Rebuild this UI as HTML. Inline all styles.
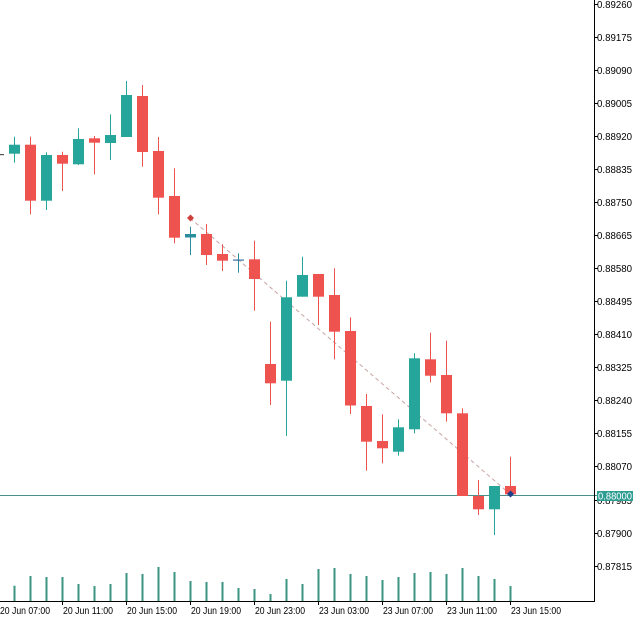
<!DOCTYPE html>
<html><head><meta charset="utf-8"><style>
html,body{margin:0;padding:0;background:#fff;}
svg{display:block;}
text{font-family:"Liberation Sans",sans-serif;font-size:10px;fill:#000;}
</style></head><body>
<svg width="638" height="619" viewBox="0 0 638 619" xmlns="http://www.w3.org/2000/svg">
<rect x="0" y="0" width="638" height="619" fill="#fff"/>
<!-- volumes -->
<g fill="#3b9580">
<rect x="13.5" y="585.7" width="2" height="15.3"/>
<rect x="29.5" y="576" width="2" height="25"/>
<rect x="45.5" y="577" width="2" height="24"/>
<rect x="61.5" y="577" width="2" height="24"/>
<rect x="77.5" y="584" width="2" height="17"/>
<rect x="93.5" y="586" width="2" height="15"/>
<rect x="109.5" y="584" width="2" height="17"/>
<rect x="125.5" y="573" width="2" height="28"/>
<rect x="141.5" y="574" width="2" height="27"/>
<rect x="157.5" y="567" width="2" height="34"/>
<rect x="173.5" y="572" width="2" height="29"/>
<rect x="189.5" y="581" width="2" height="20"/>
<rect x="205.5" y="582" width="2" height="19"/>
<rect x="221.5" y="582" width="2" height="19"/>
<rect x="237.5" y="588" width="2" height="13"/>
<rect x="253.5" y="589" width="2" height="12"/>
<rect x="269.5" y="594" width="2" height="7"/>
<rect x="285.5" y="579" width="2" height="22"/>
<rect x="301.5" y="584" width="2" height="17"/>
<rect x="317.5" y="569" width="2" height="32"/>
<rect x="333.5" y="568" width="2" height="33"/>
<rect x="349.5" y="574" width="2" height="27"/>
<rect x="365.5" y="576" width="2" height="25"/>
<rect x="381.5" y="580" width="2" height="21"/>
<rect x="397.5" y="577" width="2" height="24"/>
<rect x="413.5" y="573" width="2" height="28"/>
<rect x="429.5" y="572" width="2" height="29"/>
<rect x="445.5" y="574" width="2" height="27"/>
<rect x="461.5" y="568" width="2" height="33"/>
<rect x="477.5" y="576" width="2" height="25"/>
<rect x="493.5" y="579" width="2" height="22"/>
<rect x="509.5" y="586" width="2" height="15"/>
</g>
<!-- horizontal level line -->
<line x1="0" y1="495.5" x2="597" y2="495.5" stroke="#4d8f8a" stroke-width="1"/>
<!-- dashed trade line -->
<line x1="190" y1="218" x2="510" y2="494" stroke="#c9a4a4" stroke-width="1" stroke-dasharray="4,3"/>
<!-- candles -->
<g id="c">
<rect x="-7" y="154" width="11" height="1.2" fill="#555"/>
</g>
<g fill="#26a69a">
<!-- green -->
<rect x="14" y="136.7" width="1" height="26"/><rect x="9" y="144.7" width="11" height="9"/>
<rect x="46" y="152.3" width="1" height="57.7"/><rect x="41" y="155" width="11" height="45.7"/>
<rect x="78" y="128.3" width="1" height="36.7"/><rect x="73" y="139" width="11" height="25.3"/>
<rect x="110" y="114.3" width="1" height="45.7"/><rect x="105" y="135" width="11" height="8"/>
<rect x="126" y="81" width="1" height="56"/><rect x="121" y="95" width="11" height="42"/>
<rect x="286" y="280.7" width="1" height="155.3"/><rect x="281" y="297.3" width="11" height="83.4"/>
<rect x="302" y="256.7" width="1" height="40"/><rect x="297" y="275" width="11" height="21.7"/>
<rect x="398" y="419.3" width="1" height="36.4"/><rect x="393" y="427.3" width="11" height="24.4"/>
<rect x="414" y="353.3" width="1" height="80"/><rect x="409" y="358.3" width="11" height="71"/>
<rect x="494" y="486" width="1" height="49"/><rect x="489" y="486" width="11" height="23.3"/>
</g>
<g fill="#2b8c9c">
<rect x="190" y="226.7" width="1" height="28.3"/><rect x="185" y="234" width="11" height="3.5"/>
<rect x="238" y="253.3" width="1" height="19.4"/><rect x="233" y="259.5" width="11" height="1.2" fill="#3a6fa0"/>
</g>
<g fill="#ef5350">
<rect x="30" y="136.7" width="1" height="77.6"/><rect x="25" y="144.7" width="11" height="56"/>
<rect x="62" y="151.7" width="1" height="39.3"/><rect x="57" y="155" width="11" height="8.7"/>
<rect x="94" y="136" width="1" height="38.3"/><rect x="89" y="138.3" width="11" height="4.4"/>
<rect x="142" y="85" width="1" height="81.7"/><rect x="137" y="96" width="11" height="56"/>
<rect x="158" y="137" width="1" height="77.3"/><rect x="153" y="151" width="11" height="46.7"/>
<rect x="174" y="168.3" width="1" height="75"/><rect x="169" y="196" width="11" height="41.7"/>
<rect x="206" y="224" width="1" height="41"/><rect x="201" y="234" width="11" height="21"/>
<rect x="222" y="244.3" width="1" height="26.7"/><rect x="217" y="254" width="11" height="6.7"/>
<rect x="254" y="240.7" width="1" height="70"/><rect x="249" y="259.3" width="11" height="19.7"/>
<rect x="270" y="321.7" width="1" height="83.3"/><rect x="265" y="364" width="11" height="19.3"/>
<rect x="318" y="274" width="1" height="51"/><rect x="313" y="274" width="11" height="22.7"/>
<rect x="334" y="268.3" width="1" height="91"/><rect x="329" y="295" width="11" height="36.7"/>
<rect x="350" y="317.3" width="1" height="96.7"/><rect x="345" y="331" width="11" height="74.5"/>
<rect x="366" y="394" width="1" height="76.7"/><rect x="361" y="406" width="11" height="35.7"/>
<rect x="382" y="414.3" width="1" height="49"/><rect x="377" y="441" width="11" height="7.3"/>
<rect x="430" y="332.7" width="1" height="49.6"/><rect x="425" y="359.3" width="11" height="16.4"/>
<rect x="446" y="340.7" width="1" height="81"/><rect x="441" y="375" width="11" height="38.3"/>
<rect x="462" y="408.3" width="1" height="87.7"/><rect x="457" y="413.3" width="11" height="82.7"/>
<rect x="478" y="480" width="1" height="35"/><rect x="473" y="496" width="11" height="13.3"/>
<rect x="510" y="456.7" width="1" height="40.3"/><rect x="505" y="486" width="11" height="8.3"/>
</g>
<!-- markers -->
<polygon points="190.5,214.5 194,218 190.5,221.5 187,218" fill="#d0403a"/>
<polygon points="510.5,490.5 514,494 510.5,497.5 507,494" fill="#1f3f8a"/>
<!-- axes -->
<line x1="594.5" y1="0" x2="594.5" y2="601.5" stroke="#000" stroke-width="1"/>
<line x1="0" y1="601.5" x2="595" y2="601.5" stroke="#000" stroke-width="1"/>
<g stroke="#000" stroke-width="1">
<line x1="594" y1="4.5" x2="598" y2="4.5"/>
<line x1="594" y1="37.5" x2="598" y2="37.5"/>
<line x1="594" y1="70.5" x2="598" y2="70.5"/>
<line x1="594" y1="103.5" x2="598" y2="103.5"/>
<line x1="594" y1="136.5" x2="598" y2="136.5"/>
<line x1="594" y1="169.5" x2="598" y2="169.5"/>
<line x1="594" y1="202.5" x2="598" y2="202.5"/>
<line x1="594" y1="235.5" x2="598" y2="235.5"/>
<line x1="594" y1="268.5" x2="598" y2="268.5"/>
<line x1="594" y1="301.5" x2="598" y2="301.5"/>
<line x1="594" y1="334.5" x2="598" y2="334.5"/>
<line x1="594" y1="367.5" x2="598" y2="367.5"/>
<line x1="594" y1="400.5" x2="598" y2="400.5"/>
<line x1="594" y1="433.5" x2="598" y2="433.5"/>
<line x1="594" y1="466.5" x2="598" y2="466.5"/>
<line x1="594" y1="500.5" x2="598" y2="500.5"/>
<line x1="594" y1="533.5" x2="598" y2="533.5"/>
<line x1="594" y1="566.5" x2="598" y2="566.5"/>
<line x1="62.5" y1="601" x2="62.5" y2="605"/>
<line x1="126.5" y1="601" x2="126.5" y2="605"/>
<line x1="190.5" y1="601" x2="190.5" y2="605"/>
<line x1="254.5" y1="601" x2="254.5" y2="605"/>
<line x1="318.5" y1="601" x2="318.5" y2="605"/>
<line x1="382.5" y1="601" x2="382.5" y2="605"/>
<line x1="446.5" y1="601" x2="446.5" y2="605"/>
<line x1="510.5" y1="601" x2="510.5" y2="605"/>
</g>
<g>
<text x="597" y="8" textLength="35" lengthAdjust="spacingAndGlyphs">0.89260</text>
<text x="597" y="41" textLength="35" lengthAdjust="spacingAndGlyphs">0.89175</text>
<text x="597" y="74" textLength="35" lengthAdjust="spacingAndGlyphs">0.89090</text>
<text x="597" y="107" textLength="35" lengthAdjust="spacingAndGlyphs">0.89005</text>
<text x="597" y="140" textLength="35" lengthAdjust="spacingAndGlyphs">0.88920</text>
<text x="597" y="173" textLength="35" lengthAdjust="spacingAndGlyphs">0.88835</text>
<text x="597" y="206" textLength="35" lengthAdjust="spacingAndGlyphs">0.88750</text>
<text x="597" y="239" textLength="35" lengthAdjust="spacingAndGlyphs">0.88665</text>
<text x="597" y="272" textLength="35" lengthAdjust="spacingAndGlyphs">0.88580</text>
<text x="597" y="305" textLength="35" lengthAdjust="spacingAndGlyphs">0.88495</text>
<text x="597" y="338" textLength="35" lengthAdjust="spacingAndGlyphs">0.88410</text>
<text x="597" y="371" textLength="35" lengthAdjust="spacingAndGlyphs">0.88325</text>
<text x="597" y="404" textLength="35" lengthAdjust="spacingAndGlyphs">0.88240</text>
<text x="597" y="437" textLength="35" lengthAdjust="spacingAndGlyphs">0.88155</text>
<text x="597" y="470" textLength="35" lengthAdjust="spacingAndGlyphs">0.88070</text>
<text x="597" y="504" textLength="35" lengthAdjust="spacingAndGlyphs">0.87985</text>
<text x="597" y="537" textLength="35" lengthAdjust="spacingAndGlyphs">0.87900</text>
<text x="597" y="570" textLength="35" lengthAdjust="spacingAndGlyphs">0.87815</text>
</g>
<rect x="597" y="491" width="36" height="10" fill="#2e9d92"/>
<text x="598" y="499.5" textLength="34" lengthAdjust="spacingAndGlyphs" style="fill:#fff">0.88000</text>
<g>
<text x="0" y="614" textLength="50" lengthAdjust="spacingAndGlyphs">20 Jun 07:00</text>
<text x="63" y="614" textLength="50" lengthAdjust="spacingAndGlyphs">20 Jun 11:00</text>
<text x="127" y="614" textLength="50" lengthAdjust="spacingAndGlyphs">20 Jun 15:00</text>
<text x="191" y="614" textLength="50" lengthAdjust="spacingAndGlyphs">20 Jun 19:00</text>
<text x="255" y="614" textLength="50" lengthAdjust="spacingAndGlyphs">20 Jun 23:00</text>
<text x="319" y="614" textLength="50" lengthAdjust="spacingAndGlyphs">23 Jun 03:00</text>
<text x="383" y="614" textLength="50" lengthAdjust="spacingAndGlyphs">23 Jun 07:00</text>
<text x="447" y="614" textLength="50" lengthAdjust="spacingAndGlyphs">23 Jun 11:00</text>
<text x="511" y="614" textLength="50" lengthAdjust="spacingAndGlyphs">23 Jun 15:00</text>
</g>
</svg>
</body></html>
